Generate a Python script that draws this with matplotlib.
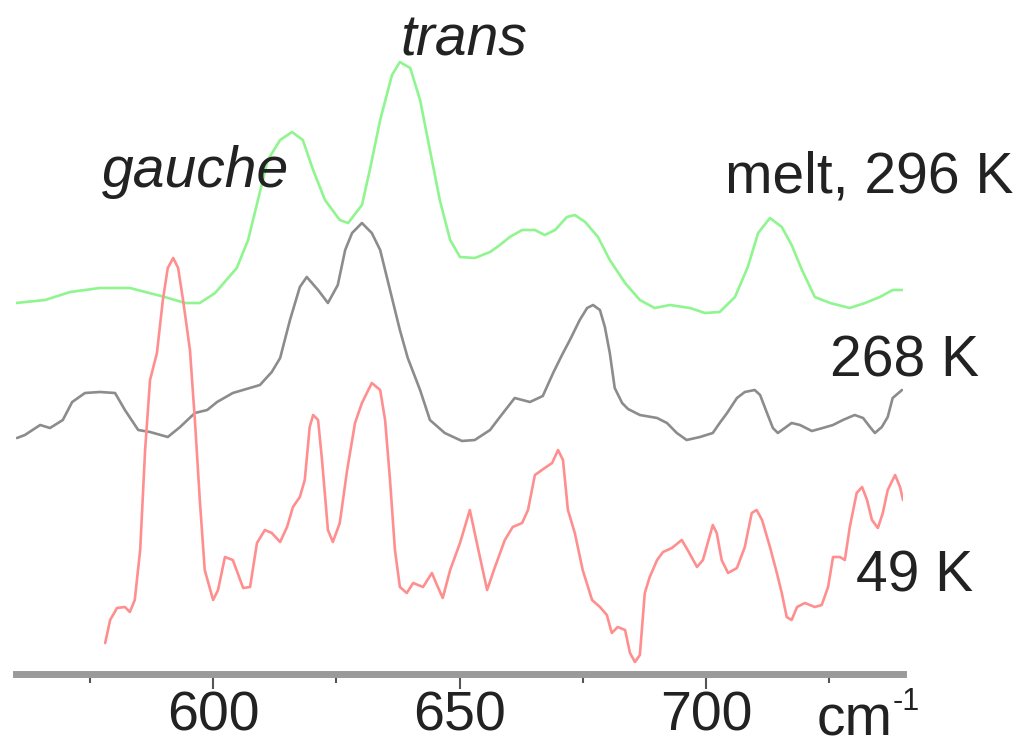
import matplotlib.pyplot as plt
from matplotlib.ticker import FixedLocator

# Raman spectra, wavenumber (cm-1) vs intensity (arb. units, offset stacked)
melt_x = [560.0, 565.9, 571.0, 577.0, 583.1, 590.2, 594.3, 597.3, 600.4, 604.8,
          607.1, 609.1, 611.1, 613.6, 616.0, 618.2, 620.3, 622.7, 625.7, 627.4,
          630.2, 631.8, 633.9, 636.3, 637.9, 640.0, 642.0, 644.0, 646.0, 648.1,
          650.1, 653.1, 656.2, 658.2, 660.2, 662.7, 665.3, 667.3, 669.4, 671.8,
          673.4, 675.5, 678.1, 680.5, 683.6, 686.6, 689.6, 692.7, 696.8, 699.8,
          702.8, 705.9, 708.5, 710.6, 713.0, 715.4, 717.4, 719.5, 722.1, 725.2,
          729.2, 732.3, 735.3, 737.9, 740.0]
melt_y = [3.71, 3.74, 3.82, 3.86, 3.86, 3.77, 3.71, 3.71, 3.81, 4.06,
          4.34, 4.74, 5.14, 5.34, 5.42, 5.34, 5.04, 4.74, 4.54, 4.51,
          4.69, 5.04, 5.54, 5.99, 6.12, 6.06, 5.74, 5.24, 4.74, 4.34,
          4.17, 4.16, 4.22, 4.29, 4.37, 4.44, 4.44, 4.39, 4.44, 4.57,
          4.59, 4.52, 4.37, 4.14, 3.91, 3.74, 3.66, 3.69, 3.66, 3.61,
          3.62, 3.77, 4.07, 4.41, 4.56, 4.47, 4.29, 4.04, 3.77, 3.71,
          3.66, 3.71, 3.77, 3.84, 3.84]

k268_x = [560.2, 561.8, 564.9, 566.9, 569.5, 571.4, 574.0, 577.0, 580.1, 582.1,
          584.8, 587.2, 590.8, 593.3, 596.3, 598.8, 600.8, 604.0, 609.5, 611.9,
          613.6, 615.6, 617.6, 619.0, 621.3, 623.3, 625.3, 626.8, 628.2, 630.2,
          632.2, 633.9, 635.9, 637.9, 639.5, 642.0, 644.0, 647.0, 650.5, 653.1,
          656.2, 658.2, 661.2, 664.3, 666.9, 669.0, 670.8, 672.4, 674.4, 675.9,
          677.1, 678.5, 679.5, 680.5, 681.5, 683.0, 684.2, 686.6, 690.1, 692.1,
          694.1, 696.1, 698.8, 701.4, 702.8, 704.3, 706.3, 707.9, 709.9, 711.0,
          712.4, 713.6, 714.6, 716.0, 717.4, 719.1, 721.5, 723.7, 725.8, 727.8,
          730.2, 731.9, 733.3, 734.3, 735.7, 736.9, 737.9, 739.8]
k268_y = [2.36, 2.39, 2.49, 2.46, 2.54, 2.72, 2.81, 2.82, 2.81, 2.64,
          2.44, 2.42, 2.37, 2.47, 2.61, 2.64, 2.72, 2.81, 2.89, 3.02,
          3.16, 3.54, 3.87, 3.97, 3.84, 3.71, 3.89, 4.24, 4.41, 4.51,
          4.41, 4.24, 3.84, 3.44, 3.16, 2.84, 2.54, 2.41, 2.33, 2.34,
          2.44, 2.57, 2.76, 2.72, 2.78, 3.01, 3.19, 3.34, 3.54, 3.66,
          3.69, 3.64, 3.47, 3.21, 2.86, 2.71, 2.65, 2.59, 2.56, 2.51,
          2.41, 2.34, 2.37, 2.41, 2.51, 2.61, 2.76, 2.82, 2.84, 2.79,
          2.61, 2.46, 2.41, 2.46, 2.51, 2.49, 2.43, 2.46, 2.49, 2.54,
          2.59, 2.56, 2.47, 2.41, 2.47, 2.57, 2.76, 2.84]

k49_x = [578.1, 579.1, 580.5, 582.1, 583.1, 584.1, 585.2, 586.2, 587.2, 588.6,
         589.8, 590.8, 591.9, 592.9, 593.9, 595.3, 596.3, 597.3, 598.3, 600.0,
         601.0, 602.4, 604.0, 606.1, 607.5, 608.9, 610.5, 611.9, 613.6, 615.0,
         616.2, 617.6, 618.6, 619.6, 620.3, 621.3, 622.1, 623.3, 624.3, 625.7,
         627.2, 628.8, 630.2, 632.2, 633.9, 634.9, 635.9, 636.9, 637.9, 639.3,
         640.6, 642.6, 644.4, 645.6, 646.6, 648.1, 650.1, 652.1, 653.7, 655.6,
         657.2, 659.2, 660.8, 662.7, 663.9, 665.3, 667.3, 668.8, 670.0, 671.0,
         672.0, 673.4, 675.0, 676.9, 678.5, 679.9, 680.9, 682.1, 683.6, 684.6,
         685.6, 686.6, 687.6, 688.6, 690.1, 691.3, 693.1, 695.1, 696.3, 698.2,
         699.4, 701.4, 702.2, 703.2, 704.5, 706.3, 707.9, 709.3, 710.3, 711.4,
         713.0, 714.4, 715.4, 716.4, 717.4, 718.5, 720.1, 722.1, 723.5, 724.8,
         725.8, 727.2, 728.2, 729.2, 730.6, 731.7, 732.7, 733.7, 734.9, 735.9,
         736.9, 738.4, 739.4, 740.0]
k49_y = [0.31, 0.54, 0.66, 0.67, 0.62, 0.74, 1.24, 2.24, 2.94, 3.21,
         3.74, 4.06, 4.16, 4.06, 3.74, 3.24, 2.54, 1.74, 1.04, 0.74,
         0.84, 1.17, 1.14, 0.86, 0.87, 1.31, 1.44, 1.41, 1.32, 1.47,
         1.67, 1.77, 1.94, 2.47, 2.59, 2.54, 2.14, 1.44, 1.32, 1.51,
         2.04, 2.51, 2.71, 2.91, 2.84, 2.54, 1.94, 1.24, 0.87, 0.81,
         0.91, 0.87, 1.01, 0.87, 0.76, 1.04, 1.31, 1.64, 1.27, 0.84,
         1.07, 1.34, 1.47, 1.51, 1.64, 1.99, 2.06, 2.11, 2.24, 2.14,
         1.64, 1.41, 1.04, 0.74, 0.67, 0.59, 0.41, 0.47, 0.44, 0.21,
         0.12, 0.19, 0.81, 0.97, 1.14, 1.22, 1.26, 1.34, 1.24, 1.07,
         1.14, 1.49, 1.41, 1.14, 1.01, 1.06, 1.27, 1.61, 1.64, 1.54,
         1.27, 1.01, 0.81, 0.57, 0.54, 0.67, 0.71, 0.67, 0.69, 0.87,
         1.17, 1.17, 1.14, 1.47, 1.81, 1.87, 1.74, 1.54, 1.46, 1.61,
         1.84, 1.99, 1.87, 1.74]

major_ticks = [600, 650, 700]
minor_ticks = [575, 625, 675, 725]

plt.rcParams['font.family'] = ['Liberation Sans', 'DejaVu Sans']

W, H = 1021, 747
fig = plt.figure(figsize=(W / 100, H / 100), dpi=100)
ax = fig.add_axes([16 / W, (H - 674) / H, 887 / W, 674 / H])

line_kw = dict(lw=1.9, solid_joinstyle='round', solid_capstyle='round')
ax.plot(melt_x, melt_y, color='#8ff58f', **line_kw)
ax.plot(k268_x, k268_y, color='#8c8c8c', **line_kw)
ax.plot(k49_x, k49_y, color='#ff8f8f', **line_kw)

ax.set_xlim(560, 740)
ax.set_ylim(0, 6.74)

for s in ['top', 'right', 'left']:
    ax.spines[s].set_visible(False)
ax.spines['bottom'].set_color('#9a9a9a')
ax.spines['bottom'].set_linewidth(5)

ax.set_yticks([])
ax.xaxis.set_major_locator(FixedLocator(major_ticks))
ax.xaxis.set_minor_locator(FixedLocator(minor_ticks))
ax.tick_params(axis='x', which='major', length=11, width=1.5, color='#555555',
               labelsize=40, labelcolor='#222222', pad=1)
ax.tick_params(axis='x', which='minor', length=6.5, width=1.5, color='#555555')

txt = dict(fontsize=41, color='#222222', va='baseline', ha='left')
fig.text(102 / W, 1 - 187 / H, 'gauche', style='italic', **txt)
fig.text(400 / W, 1 - 55 / H, 'trans', style='italic', **txt)
fig.text(725 / W, 1 - 192 / H, 'melt, 296 K', **txt)
fig.text(830 / W, 1 - 377 / H, '268 K', **txt)
fig.text(856 / W, 1 - 591 / H, '49 K', **txt)
fig.text(817 / W, 1 - 735 / H, 'cm', **txt)
fig.text(893 / W, 1 - 710 / H, '-1', fontsize=22, color='#222222', va='baseline', ha='left')

fig.savefig('out.png', dpi=100)
